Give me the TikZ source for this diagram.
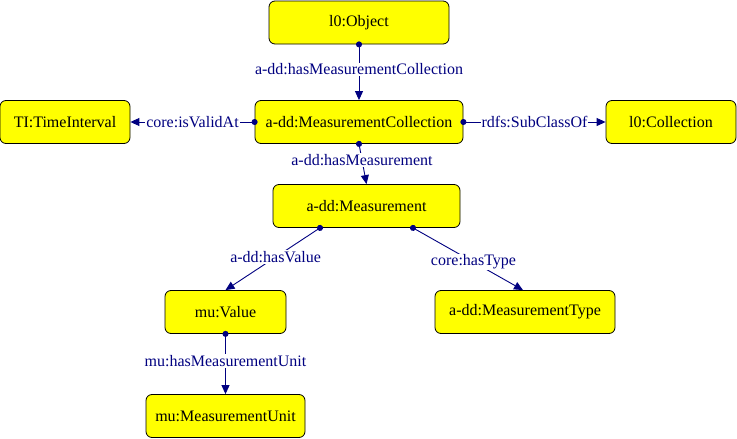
\documentclass[tikz,border=0pt]{standalone}
\usepackage{fontspec}
\setmainfont{Liberation Serif}
\usetikzlibrary{arrows.meta}
\definecolor{relblue}{RGB}{0,0,128}
\definecolor{clsyellow}{RGB}{255,255,0}

\begin{document}
\begin{tikzpicture}[x=1pt, y=-1pt,
    cls/.style={draw=black, fill=clsyellow, rounded corners=6pt, line width=0.8pt,
        minimum height=43pt, inner sep=0pt, font=\fontsize{16}{19}\selectfont},
    rel/.style={draw=relblue, line width=0.9pt, shorten <=-3pt,
        {Circle[length=6pt]}-{Triangle[length=9pt, width=8pt]}},
    lbl/.style={fill=white, text=relblue, inner sep=1pt, font=\fontsize{16}{19}\selectfont}]
    \useasboundingbox (0, 0) rectangle (737, 439);
    % classes
    \node[cls, minimum width=180pt] (object) at (359, 22.5) {l0:Object};
    \node[cls, minimum width=208pt] (mcoll) at (359, 122) {a-dd:MeasurementCollection};
    \node[cls, minimum width=130pt] (tinterval) at (65, 122) {TI:TimeInterval};
    \node[cls, minimum width=130pt] (collection) at (671, 122) {l0:Collection};
    \node[cls, minimum width=187pt] (measure) at (366.5, 206) {a-dd:Measurement};
    \node[cls, minimum width=121pt] (value) at (225.5, 312) {mu:Value};
    \node[cls, minimum width=180pt] (mtype) at (525, 312) {a-dd:MeasurementType};
    \node[cls, minimum width=159pt] (munit) at (225.5, 416) {mu:MeasurementUnit};
    % relations
    \draw[rel] (object.south) -- node[lbl, pos=0.45] {a-dd:hasMeasurementCollection} (mcoll.north);
    \draw[rel] (mcoll.west) -- node[lbl] {core:isValidAt} (tinterval.east);
    \draw[rel] (mcoll.east) -- node[lbl] {rdfs:SubClassOf} (collection.west);
    \draw[rel] (mcoll.south) -- node[lbl, pos=0.4] {a-dd:hasMeasurement} (measure.north);
    \draw[rel] ([xshift=-46.5pt]measure.south) -- node[lbl, pos=0.47] {a-dd:hasValue} (value.north);
    \draw[rel] ([xshift=46.5pt]measure.south) -- node[lbl, pos=0.55] {core:hasType} ([xshift=-2pt]mtype.north);
    \draw[rel] (value.south) -- node[lbl, pos=0.45] {mu:hasMeasurementUnit} (munit.north);
\end{tikzpicture}
\end{document}
